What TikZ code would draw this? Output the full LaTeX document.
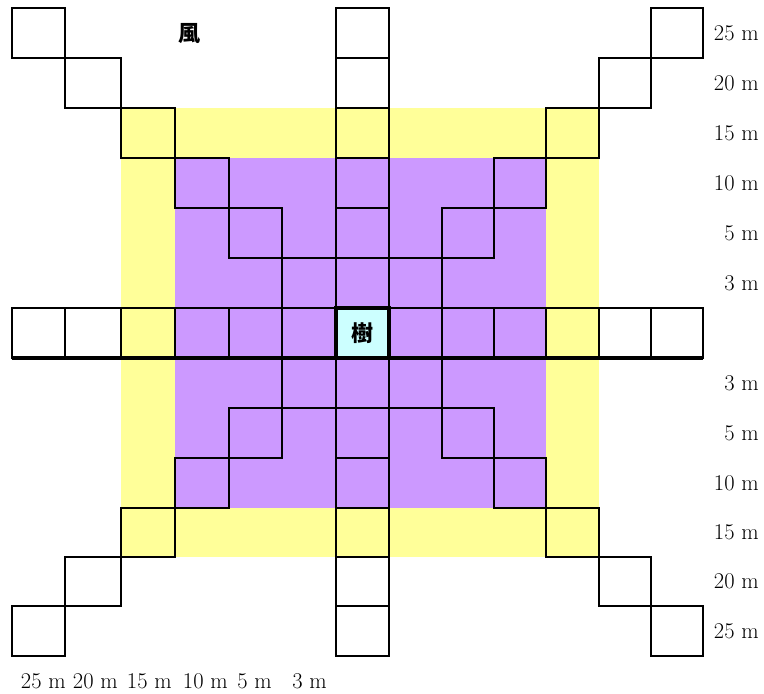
\documentclass[tikz,border=0pt]{standalone}
\usepackage{fontspec}
\usetikzlibrary{calc}
\newfontfamily\cjk{Noto Sans CJK JP}
\definecolor{ylw}{HTML}{FFFF99}
\definecolor{prp}{HTML}{CC99FF}
\definecolor{cyn}{HTML}{CCFFFF}
\begin{document}
\begin{tikzpicture}[x=1pt,y=-1pt,
  cellline/.style={line width=2.5pt, line join=miter},
  lbl/.style={font=\fontsize{22.5}{26}\selectfont, inner sep=0pt},
  kanji/.style={font=\cjk\bfseries\fontsize{22}{26}\selectfont, inner sep=0pt}]
\useasboundingbox (0,0) rectangle (764,694);
\def\xs{{12,65,121,175,229,282,336,389,442,494,546,599,651,703}}
\def\ys{{8,58,108,158,208,258,308,358,408,458,508,557,606,656}}
\foreach \i in {0,...,13}{
  \foreach \j in {0,...,13}{
    \pgfmathsetmacro\px{\xs[\i]}
    \pgfmathsetmacro\py{\ys[\j]}
    \coordinate (p\i-\j) at (\px,\py);
  }
}
% zones
\fill[ylw] (p2-2) rectangle (p11-11);
\fill[prp] (p3-3) rectangle (p10-10);
\fill[cyn] (p6-6) rectangle (p7-7);
% cells
\foreach \c/\r [evaluate=\c as \cc using int(\c+1), evaluate=\r as \rr using int(\r+1)] in
 {0/6,1/6,2/6,3/6,4/6,5/6,7/6,8/6,9/6,10/6,11/6,12/6,
  6/0,6/1,6/2,6/3,6/4,6/5,6/7,6/8,6/9,6/10,6/11,6/12,
  0/0,1/1,2/2,3/3,4/4,5/5,
  12/0,11/1,10/2,9/3,8/4,7/5,
  0/12,1/11,2/10,3/9,4/8,5/7,
  12/12,11/11,10/10,9/9,8/8,7/7}
  \draw[cellline] (p\c-\r) rectangle (p\cc-\rr);
\draw[line width=4.5pt] (p0-7) -- (p13-7);
\draw[line width=3.2pt] (p6-6) rectangle (p7-7);
\node[kanji] (tree) at ($(p6-6)!0.5!(p7-7)$) {樹};
\node[kanji] (wind) at (189,34) {風};
% right labels
\foreach \t/\r [evaluate=\r as \rr using int(\r+1)] in
 {25/0,20/1,15/2,10/3,5/4,3/5,3/7,5/8,10/9,15/10,20/11,25/12}{
  \pgfmathsetmacro\ya{\ys[\r]}
  \pgfmathsetmacro\yb{\ys[\rr]}
  \pgfmathsetmacro\yy{(\ya+\yb)/2}
  \node[lbl, anchor=east] (r\r) at (759,\yy) {\t\ m};
}
% bottom labels
\foreach \t/\xx/\k in {25/66/0,20/118/1,15/172/2,10/228/3,5/272/4,3/327/5}
  \node[lbl, anchor=base east] (b\k) at (\xx,688) {\t\ m};
\end{tikzpicture}
\end{document}
